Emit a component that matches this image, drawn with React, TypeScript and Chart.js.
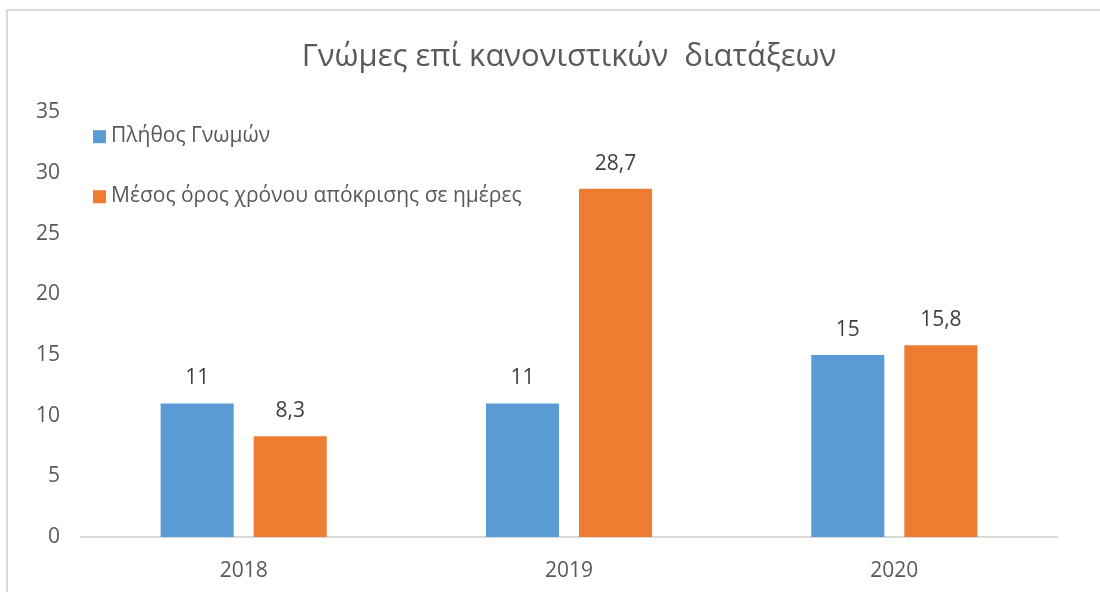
import React, { useEffect, useRef } from "react";
import { Chart, registerables } from "chart.js";

Chart.register(...registerables);

const categories = ["2018", "2019", "2020"];
const seriesNames = ["Πλήθος Γνωμών", "Μέσος όρος χρόνου απόκρισης σε ημέρες"];
const countValues = [11, 11, 15];
const avgDaysValues = [8.3, 28.7, 15.8];
const seriesColors = ["#5B9BD5", "#ED7D31"];
const titleText = "Γνώμες επί κανονιστικών  διατάξεων";
const FONT = "'Open Sans', 'Noto Sans', sans-serif";

const fmt = (v: number) => String(v).replace(".", ",");

const valueLabels = {
  id: "valueLabels",
  afterDatasetsDraw(chart: any) {
    const ctx = chart.ctx;
    ctx.save();
    ctx.font = `21px ${FONT}`;
    ctx.fillStyle = "#404040";
    ctx.textAlign = "center";
    ctx.textBaseline = "middle";
    chart.data.datasets.forEach((ds: any, i: number) => {
      const meta = chart.getDatasetMeta(i);
      meta.data.forEach((bar: any, j: number) => {
        ctx.fillText(fmt(ds.data[j]), bar.x, bar.y - 25);
      });
    });
    ctx.restore();
  },
};

const insideLegend = {
  id: "insideLegend",
  afterDraw(chart: any) {
    const ctx = chart.ctx;
    const area = chart.chartArea;
    ctx.save();
    ctx.font = `21px ${FONT}`;
    ctx.textBaseline = "middle";
    ctx.textAlign = "left";
    chart.data.datasets.forEach((ds: any, i: number) => {
      const y = area.top + 24 + i * 60;
      ctx.fillStyle = ds.backgroundColor;
      ctx.fillRect(area.left + 12, y - 6, 13, 13);
      ctx.fillStyle = "#595959";
      ctx.fillText(ds.label, area.left + 30, y);
    });
    ctx.restore();
  },
};

export default function App() {
  const ref = useRef<HTMLCanvasElement>(null);
  useEffect(() => {
    if (!ref.current) return;
    const chart = new Chart(ref.current, {
      type: "bar",
      data: {
        labels: categories,
        datasets: [
          { label: seriesNames[0], data: countValues, backgroundColor: seriesColors[0] },
          { label: seriesNames[1], data: avgDaysValues, backgroundColor: seriesColors[1] },
        ],
      },
      options: {
        responsive: false,
        animation: false,
        layout: { padding: { left: 0, right: 43, top: 0, bottom: 13 } },
        datasets: { bar: { categoryPercentage: 0.572, barPercentage: 0.785 } },
        plugins: {
          legend: { display: false },
          tooltip: { enabled: false },
          title: {
            display: true,
            fullSize: false,
            text: titleText,
            color: "#595959",
            font: { family: FONT, size: 31, weight: "normal" },
            padding: { top: 39, bottom: 36 },
          },
        },
        scales: {
          x: {
            grid: { display: false, drawTicks: false },
            border: { display: true, color: "#d9d9d9", width: 2 },
            ticks: { color: "#595959", font: { family: FONT, size: 21 }, padding: 21 },
            afterFit: (s: any) => {
              s.height = 42;
            },
          },
          y: {
            min: 0,
            max: 35,
            grid: { display: false, drawTicks: false },
            border: { display: false },
            ticks: {
              stepSize: 5,
              color: "#595959",
              font: { family: FONT, size: 21 },
              padding: 21,
            },
            afterFit: (s: any) => {
              s.width = 81;
            },
          },
        },
      },
      plugins: [valueLabels, insideLegend],
    });
    return () => chart.destroy();
  }, []);
  return (
    <div style={{ position: "fixed", left: 0, top: 0, width: 1100, height: 592, background: "#fff", overflow: "hidden" }}>
      <div
        style={{
          position: "absolute",
          left: 6,
          top: 9,
          width: 1200,
          height: 700,
          borderTop: "2px solid #d9d9d9",
          borderLeft: "2px solid #d9d9d9",
        }}
      />
      <canvas ref={ref} width={1100} height={592} style={{ position: "absolute", left: 0, top: 0 }} />
    </div>
  );
}
